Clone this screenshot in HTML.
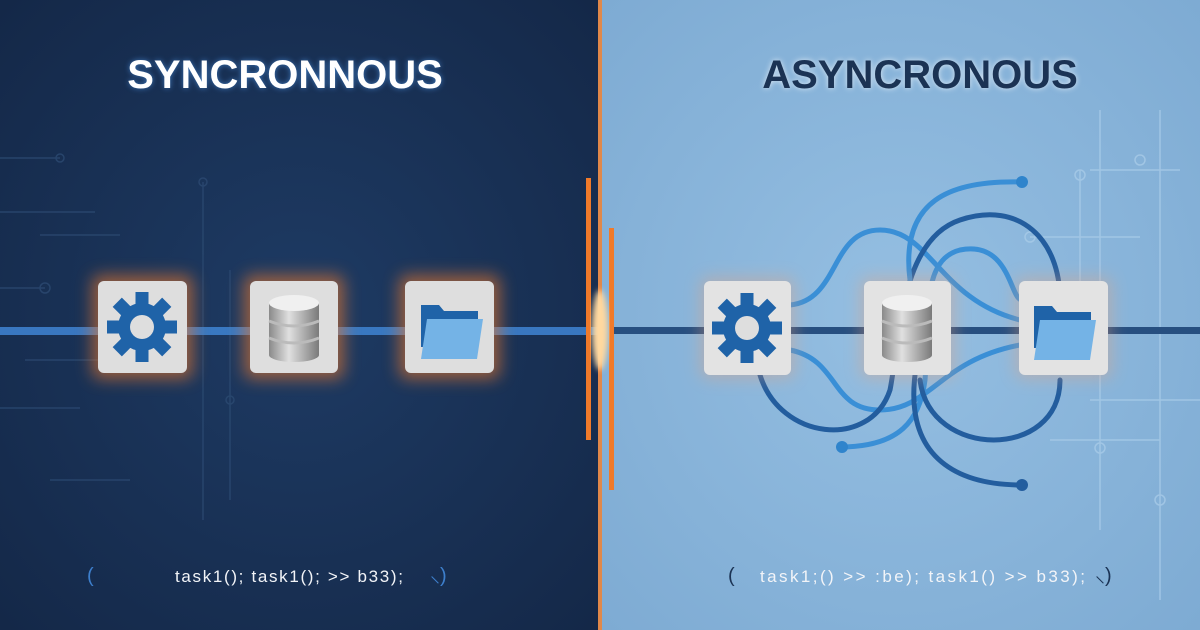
<!DOCTYPE html>
<html><head><style>
html,body{margin:0;padding:0;width:1200px;height:630px;overflow:hidden}
body{font-family:"Liberation Sans",sans-serif}
</style></head><body>
<svg width="1200" height="630" viewBox="0 0 1200 630" xmlns="http://www.w3.org/2000/svg">
<defs>
<radialGradient id="lg" cx="0.5" cy="0.5" r="0.7"><stop offset="0" stop-color="#1e3b64"/><stop offset="1" stop-color="#142848"/></radialGradient>
<radialGradient id="rg" cx="0.5" cy="0.5" r="0.7"><stop offset="0" stop-color="#95bfe2"/><stop offset="1" stop-color="#7eabd3"/></radialGradient>
<linearGradient id="cyl" x1="0" x2="1"><stop offset="0" stop-color="#8a8a8a"/><stop offset="0.4" stop-color="#e0e0e0"/><stop offset="1" stop-color="#7a7a7a"/></linearGradient>
<filter id="glow" x="-50%" y="-50%" width="200%" height="200%"><feGaussianBlur stdDeviation="8"/></filter>
<filter id="soft"><feGaussianBlur stdDeviation="3"/></filter>
<g id="gear"><circle r="24" fill="#1f63a8"/><g fill="#1f63a8"><rect x="-6.5" y="-35" width="13" height="13"/><rect x="-6.5" y="22" width="13" height="13"/><rect x="-35" y="-6.5" width="13" height="13"/><rect x="22" y="-6.5" width="13" height="13"/><g transform="rotate(45)"><rect x="-6.5" y="-35" width="13" height="13"/><rect x="-6.5" y="22" width="13" height="13"/><rect x="-35" y="-6.5" width="13" height="13"/><rect x="22" y="-6.5" width="13" height="13"/></g></g><circle r="12" fill="#dedede"/></g>
<g id="db"><rect x="-25" y="-22" width="50" height="52" fill="url(#cyl)"/><ellipse cx="0" cy="30" rx="25" ry="7" fill="url(#cyl)"/><ellipse cx="0" cy="-22" rx="25" ry="8" fill="#f0f0f0"/><path d="M-25 -4 q25 10 50 0" stroke="#bbb" stroke-width="3" fill="none"/><path d="M-25 13 q25 10 50 0" stroke="#bbb" stroke-width="3" fill="none"/></g>
<g id="folder"><path d="M-30 -22 h18 l5 6 h34 v36 h-57z" fill="#1f63a8"/><path d="M-24 -8 h56 l-6 40 h-56z" fill="#74b3e6"/></g>
</defs>
<rect x="0" y="0" width="600" height="630" fill="url(#lg)"/>
<rect x="600" y="0" width="600" height="630" fill="url(#rg)"/>
<g stroke="#2c4a72" stroke-width="1.5" fill="none" opacity="0.8">
<path d="M0 158 H60 M0 212 H95 M40 235 H120 M0 288 H45 M25 360 H110 M0 408 H80 M50 480 H130 M203 182 V520 M230 270 V500"/>
<circle cx="45" cy="288" r="5"/><circle cx="60" cy="158" r="4"/><circle cx="203" cy="182" r="4"/><circle cx="230" cy="400" r="4"/>
</g>
<g stroke="#a8cbe8" stroke-width="1.5" fill="none" opacity="0.8">
<path d="M1080 170 V330 M1090 170 H1180 M1030 237 H1140 M1100 110 V530 M1050 440 H1160 M1090 400 H1200 M1160 110 V600"/>
<circle cx="1080" cy="175" r="5"/><circle cx="1030" cy="237" r="5"/><circle cx="1100" cy="448" r="5"/><circle cx="1140" cy="160" r="5"/><circle cx="1160" cy="500" r="5"/>
</g>
<rect x="0" y="327" width="600" height="8" fill="#3d7fcc" opacity="0.9"/>
<rect x="610" y="327" width="590" height="7" fill="#274f80"/>
<rect x="598" y="0" width="4" height="630" fill="#e0884a"/>
<rect x="586" y="178" width="5" height="262" fill="#f07a2a"/>
<rect x="609" y="228" width="5" height="262" fill="#f07a2a"/>
<ellipse cx="600" cy="330" rx="8" ry="40" fill="#ffd9a0" filter="url(#soft)"/>
<g fill="none" stroke-width="5" stroke-linecap="round">
<path d="M790 305 C840 300 830 230 880 230 C930 230 940 300 1020 320" stroke="#3a8fd6"/>
<path d="M790 350 C840 360 830 410 880 410 C930 410 940 360 1020 345" stroke="#3a8fd6"/>
<path d="M760 375 C780 440 870 450 890 390 C900 340 900 240 960 220 C1020 200 1060 240 1060 300" stroke="#235d9e"/>
<path d="M910 280 C900 200 950 180 1022 182" stroke="#3a8fd6"/>
<path d="M840 447 C900 447 920 420 925 380 C930 320 920 260 960 250 C1010 240 1010 300 1022 300" stroke="#3a8fd6"/>
<path d="M915 375 C905 460 960 485 1022 485" stroke="#235d9e"/>
<path d="M920 380 C930 460 1060 460 1060 380" stroke="#235d9e"/>
</g>
<g fill="#2f84cc"><circle cx="1022" cy="182" r="6"/><circle cx="842" cy="447" r="6"/></g>
<circle cx="1022" cy="485" r="6" fill="#235d9e"/>
<g>
<rect x="92" y="275" width="101" height="104" rx="8" fill="#f07a2a" opacity="0.6" filter="url(#glow)"/>
<rect x="244" y="275" width="100" height="104" rx="8" fill="#f07a2a" opacity="0.6" filter="url(#glow)"/>
<rect x="399" y="275" width="101" height="104" rx="8" fill="#f07a2a" opacity="0.6" filter="url(#glow)"/>
<rect x="98" y="281" width="89" height="92" rx="6" fill="#dedede"/>
<rect x="250" y="281" width="88" height="92" rx="6" fill="#dedede"/>
<rect x="405" y="281" width="89" height="92" rx="6" fill="#dedede"/>
<use href="#gear" x="142" y="327"/><use href="#db" x="294" y="325"/><use href="#folder" x="451" y="327"/>
</g>
<g>
<rect x="700" y="277" width="95" height="102" rx="8" fill="#f5a070" opacity="0.35" filter="url(#glow)"/>
<rect x="860" y="277" width="95" height="102" rx="8" fill="#f5a070" opacity="0.35" filter="url(#glow)"/>
<rect x="1015" y="277" width="97" height="102" rx="8" fill="#f5a070" opacity="0.35" filter="url(#glow)"/>
<rect x="704" y="281" width="87" height="94" rx="6" fill="#e3e3e3"/>
<rect x="864" y="281" width="87" height="94" rx="6" fill="#e3e3e3"/>
<rect x="1019" y="281" width="89" height="94" rx="6" fill="#e3e3e3"/>
<use href="#gear" x="747" y="328"/><use href="#db" x="907" y="325"/><use href="#folder" x="1064" y="328"/>
</g>
<text x="285" y="88" text-anchor="middle" font-family="Liberation Sans" font-weight="bold" font-size="40" fill="#4a90e0" opacity="0.7" filter="url(#soft)">SYNCRONNOUS</text>
<text x="285" y="88" text-anchor="middle" font-family="Liberation Sans" font-weight="bold" font-size="40" fill="#ffffff">SYNCRONNOUS</text>
<text x="920" y="88" text-anchor="middle" font-family="Liberation Sans" font-weight="bold" font-size="40" fill="#ffffff" opacity="0.7" filter="url(#soft)">ASYNCRONOUS</text>
<text x="920" y="88" text-anchor="middle" font-family="Liberation Sans" font-weight="bold" font-size="40" fill="#1b3354">ASYNCRONOUS</text>
<g font-family="Liberation Sans" font-size="17" fill="#f2f4f8">
<text x="87" y="582" fill="#3d7fcc" font-size="20">(</text>
<text x="175" y="582" textLength="228" lengthAdjust="spacing">task1(); task1(); &gt;&gt;  b33);</text>
<text x="430" y="582" fill="#3d7fcc" font-size="20">⸜)</text>
<text x="728" y="582" fill="#1b3354" font-size="20">(</text>
<text x="760" y="582" textLength="325" lengthAdjust="spacing">task1;() &gt;&gt; :be);   task1() &gt;&gt; b33);</text>
<text x="1095" y="582" fill="#1b3354" font-size="20">⸜)</text>
</g>
</svg>
</body></html>
